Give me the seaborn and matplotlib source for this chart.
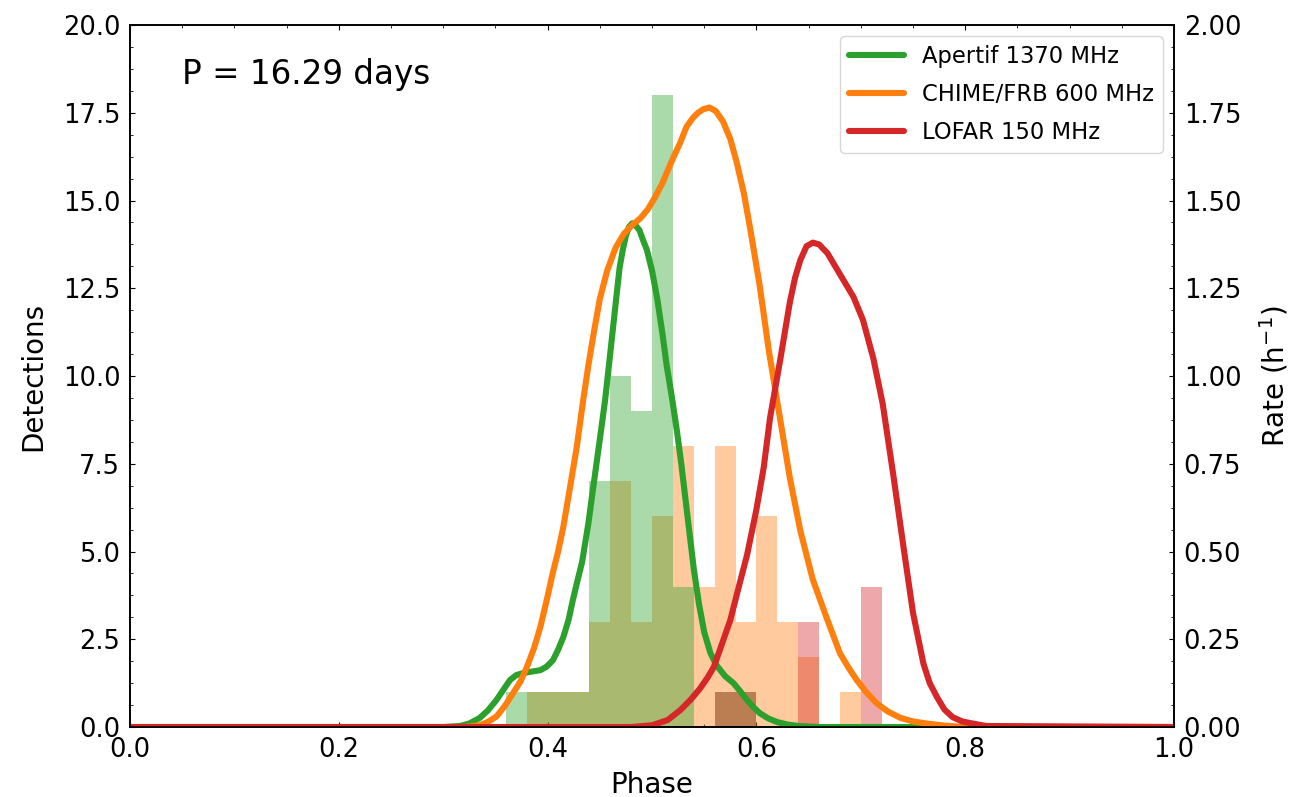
import numpy as np
import pandas as pd
import matplotlib
matplotlib.use("Agg")
import matplotlib.pyplot as plt
from matplotlib.ticker import MultipleLocator, AutoMinorLocator
import seaborn as sns

# histogram counts per phase bin (left edge of 0.02 wide bins)
apertif_bins = [0.36, 0.38, 0.40, 0.42, 0.44, 0.46, 0.48, 0.50, 0.52, 0.56, 0.58]
apertif_counts = [1, 1, 1, 1, 7, 10, 9, 18, 4, 1, 1]
chime_bins = [0.38, 0.40, 0.42, 0.44, 0.46, 0.48, 0.50, 0.52, 0.54, 0.56, 0.58,
              0.60, 0.62, 0.64, 0.68]
chime_counts = [1, 1, 1, 3, 7, 3, 6, 8, 4, 8, 3, 6, 3, 2, 1]
lofar_bins = [0.56, 0.58, 0.64, 0.70]
lofar_counts = [1, 1, 3, 4]

# rate curves
apertif_phase = [0.0, 0.30, 0.316, 0.325, 0.335, 0.343, 0.351, 0.358, 0.364, 0.370,
                 0.377, 0.385, 0.393, 0.399, 0.405, 0.410, 0.415, 0.420, 0.424, 0.428,
                 0.433, 0.439, 0.444, 0.450, 0.455, 0.462, 0.466, 0.469, 0.472, 0.475,
                 0.478, 0.481, 0.484, 0.488, 0.491, 0.495, 0.500, 0.505, 0.510, 0.514,
                 0.519, 0.524, 0.528, 0.532, 0.536, 0.540, 0.545, 0.550, 0.556, 0.562,
                 0.570, 0.578, 0.585, 0.591, 0.597, 0.603, 0.611, 0.620, 0.630, 0.640,
                 0.660, 1.0]
apertif_rate = [0.0, 0.0, 0.003, 0.01, 0.026, 0.048, 0.077, 0.108, 0.134, 0.148,
                0.154, 0.158, 0.162, 0.172, 0.19, 0.22, 0.256, 0.305, 0.36, 0.41,
                0.47, 0.58, 0.69, 0.82, 0.93, 1.12, 1.23, 1.31, 1.36, 1.40,
                1.425, 1.435, 1.43, 1.415, 1.39, 1.36, 1.30, 1.22, 1.12, 1.03,
                0.94, 0.84, 0.75, 0.65, 0.55, 0.45, 0.35, 0.27, 0.21, 0.175,
                0.145, 0.125, 0.10, 0.077, 0.057, 0.04, 0.025, 0.014, 0.007, 0.003,
                0.0, 0.0]

chime_phase = [0.0, 0.32, 0.335, 0.343, 0.351, 0.359, 0.367, 0.374, 0.380, 0.387,
               0.393, 0.399, 0.405, 0.410, 0.415, 0.421, 0.428, 0.434, 0.439, 0.444,
               0.450, 0.457, 0.465, 0.473, 0.481, 0.489, 0.496, 0.503, 0.510, 0.520,
               0.527, 0.533, 0.539, 0.544, 0.549, 0.555, 0.561, 0.568, 0.575, 0.581,
               0.588, 0.594, 0.603, 0.612, 0.622, 0.632, 0.642, 0.654, 0.668, 0.680,
               0.688, 0.696, 0.705, 0.715, 0.726, 0.738, 0.750, 0.763, 0.780, 0.80,
               1.0]
chime_rate = [0.0, 0.0, 0.005, 0.015, 0.03, 0.06, 0.097, 0.13, 0.17, 0.225,
              0.285, 0.36, 0.44, 0.50, 0.57, 0.675, 0.80, 0.93, 1.03, 1.12,
              1.22, 1.30, 1.365, 1.405, 1.43, 1.45, 1.475, 1.51, 1.55, 1.62,
              1.665, 1.71, 1.735, 1.75, 1.76, 1.765, 1.755, 1.725, 1.675, 1.61,
              1.52, 1.42, 1.26, 1.07, 0.89, 0.71, 0.56, 0.42, 0.305, 0.21,
              0.17, 0.134, 0.10, 0.068, 0.044, 0.026, 0.016, 0.01, 0.004, 0.0,
              0.0]

lofar_phase = [0.0, 0.48, 0.50, 0.515, 0.527, 0.537, 0.546, 0.553, 0.559, 0.565,
               0.575, 0.584, 0.591, 0.600, 0.607, 0.613, 0.623, 0.632, 0.637, 0.642,
               0.648, 0.654, 0.660, 0.668, 0.680, 0.693, 0.702, 0.712, 0.721, 0.731,
               0.741, 0.750, 0.760, 0.766, 0.773, 0.780, 0.788, 0.797, 0.807, 0.820,
               1.0]
lofar_rate = [0.0, 0.0, 0.005, 0.02, 0.048, 0.078, 0.11, 0.14, 0.17, 0.22,
              0.305, 0.41, 0.49, 0.62, 0.74, 0.88, 1.05, 1.21, 1.28, 1.33,
              1.37, 1.38, 1.375, 1.35, 1.29, 1.225, 1.16, 1.05, 0.92, 0.72,
              0.51, 0.325, 0.18, 0.125, 0.085, 0.05, 0.028, 0.016, 0.01, 0.003,
              0.0]

green, orange, red = "#2ca02c", "#ff7f0e", "#d62728"

sns.set_style("ticks", {"xtick.direction": "in", "ytick.direction": "in",
                        "text.color": "black", "axes.labelcolor": "black",
                        "xtick.color": "black", "ytick.color": "black",
                        "axes.edgecolor": "black"})
plt.rcParams["font.family"] = ["DejaVu Sans"]
plt.rcParams["axes.linewidth"] = 1.2

fig, ax = plt.subplots(figsize=(12.89, 7.97), dpi=100)
fig.subplots_adjust(left=0.1009, right=0.9108, top=0.9686, bottom=0.0878)


def hist(bins, counts, color):
    df = pd.DataFrame({"phase": np.array(bins) + 0.01, "n": counts})
    sns.histplot(data=df, x="phase", weights="n", binwidth=0.02, binrange=(0, 1),
                 color=color, alpha=0.4, linewidth=0, ax=ax)


hist(chime_bins, chime_counts, orange)
hist(apertif_bins, apertif_counts, green)
hist(lofar_bins, lofar_counts, red)

ax.set_xlim(0, 1)
ax.set_ylim(0, 20)
ax.set_xlabel("Phase", fontsize=20, labelpad=6)
ax.set_ylabel("Detections", fontsize=20, labelpad=11)
ax.xaxis.set_major_locator(MultipleLocator(0.2))
ax.yaxis.set_major_locator(MultipleLocator(2.5))
ax.xaxis.set_minor_locator(AutoMinorLocator(4))
ax.yaxis.set_minor_locator(AutoMinorLocator(4))
ax.tick_params(which="both", direction="in", top=True, labelsize=18.5, pad=7)

ax2 = ax.twinx()
sns.lineplot(x=apertif_phase, y=apertif_rate, color=green, lw=4.4, ax=ax2, label="Apertif 1370 MHz")
sns.lineplot(x=chime_phase, y=chime_rate, color=orange, lw=4.4, ax=ax2, label="CHIME/FRB 600 MHz")
sns.lineplot(x=lofar_phase, y=lofar_rate, color=red, lw=4.4, ax=ax2, label="LOFAR 150 MHz")
ax2.set_ylim(0, 2)
ax2.yaxis.set_major_locator(MultipleLocator(0.25))
ax2.yaxis.set_minor_locator(AutoMinorLocator(4))
ax2.tick_params(which="both", direction="in", labelsize=18.5, pad=7)
ax2.set_ylabel("Rate (h$^{-1}$)", fontsize=20, labelpad=12)
ax2.legend(loc="upper right", fontsize=16.3, handlelength=2.4, labelspacing=0.65)

ax.text(0.05, 0.93, "P = 16.29 days", transform=ax.transAxes, fontsize=23.5,
        ha="left", va="center")

fig.savefig("out.png", dpi=100)
